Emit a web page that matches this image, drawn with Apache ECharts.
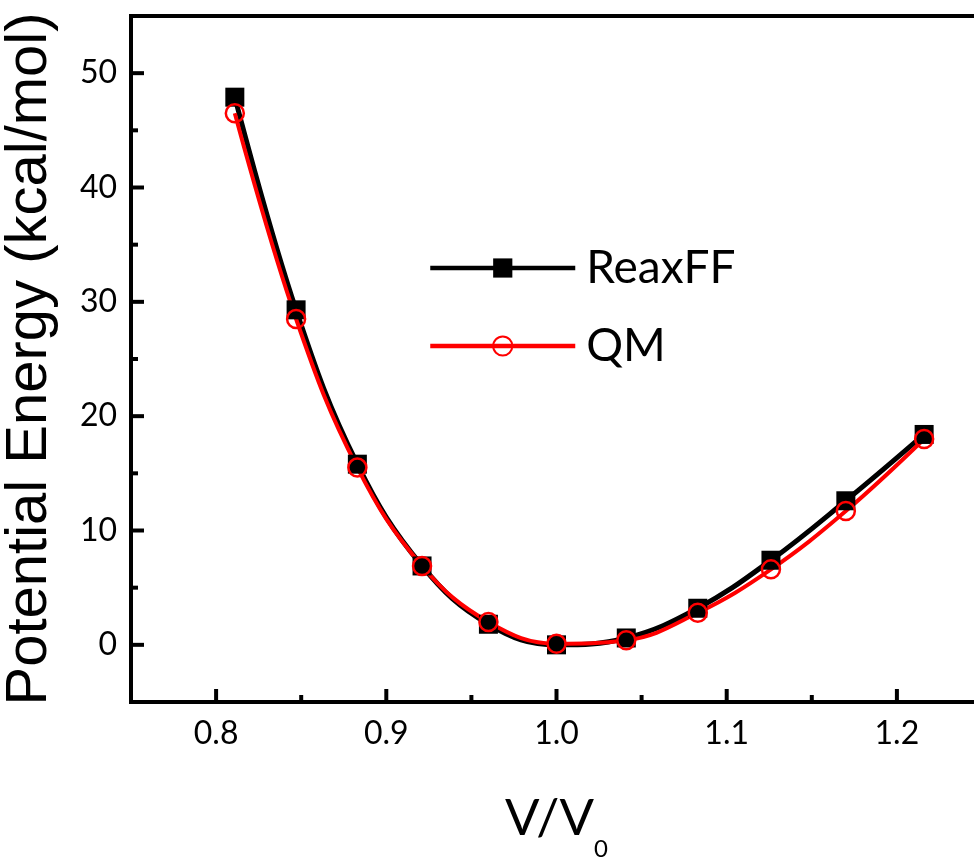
<!DOCTYPE html>
<html>
<head>
<meta charset="utf-8">
<title>Potential energy vs V/V0</title>
<script src="https://cdn.jsdelivr.net/npm/echarts@6/dist/echarts.min.js"></script>
<style>
  html, body { margin: 0; padding: 0; background: #fff; }
  #chart { width: 974px; height: 859px; }
</style>
</head>
<body>
<div id="chart"></div>
<script>
// values
const vRatio = [0.811, 0.847, 0.883, 0.921, 0.960, 1.000, 1.041, 1.083, 1.126, 1.170, 1.216];
const reaxff = [47.9, 29.3, 15.8, 6.9, 1.8, 0.0, 0.6, 3.2, 7.4, 12.6, 18.4];
const qm = [46.5, 28.5, 15.5, 6.9, 2.0, 0.1, 0.4, 2.8, 6.6, 11.7, 18.0];

const xMajor = [0.8, 0.9, 1.0, 1.1, 1.2];
const xMinor = [0.85, 0.95, 1.05, 1.15];
const yMajor = [0, 10, 20, 30, 40, 50];
const yMinor = [5, 15, 25, 35, 45];

const xMin = 0.75, xMax = 1.25;
const yMin = -5, yMax = 55;

function pairs(xs, ys) {
  return xs.map((x, i) => [x, ys[i]]);
}

let myChart = echarts.init(document.getElementById('chart'));

const tickFont = 'Lato';
const axisColor = '#000';

// inward tick marks placed through the axis scales, drawn as small rects
function tickSeries(values, isX, len) {
  return {
    type: 'custom',
    silent: true,
    z: 100,
    clip: false,
    data: values.map(v => (isX ? [v, yMin] : [xMin, v])),
    renderItem: (params, api) => {
      const p = api.coord([api.value(0), api.value(1)]);
      return {
        type: 'rect',
        shape: isX
          ? { x: p[0] - 2, y: p[1] - len, width: 4, height: len }
          : { x: p[0], y: p[1] - 2, width: len, height: 4 },
        style: { fill: axisColor }
      };
    }
  };
}

myChart.setOption({
  animation: false,
  backgroundColor: '#fff',
  grid: {
    left: 131,
    right: -8,
    top: 16,
    bottom: 157,
    outerBoundsMode: 'none',
    show: true,
    borderColor: axisColor,
    borderWidth: 4
  },
  legend: {
    left: 423,
    top: 238,
    orient: 'vertical',
    itemWidth: 145,
    itemHeight: 24,
    itemGap: 28,
    lineStyle: { width: 4.5 },
    textStyle: {
      fontFamily: tickFont,
      fontSize: 46,
      lineHeight: 50,
      color: '#000',
      padding: [0, 0, 0, 6]
    },
    data: ['ReaxFF', 'QM']
  },
  xAxis: {
    type: 'value',
    min: xMin,
    max: xMax,
    name: '{a|V/V}{b|0}',
    nameLocation: 'middle',
    nameGap: 75,
    nameTextStyle: {
      rich: {
        a: { fontFamily: tickFont, fontSize: 51, lineHeight: 84, verticalAlign: 'middle', color: '#000' },
        b: { fontFamily: tickFont, fontSize: 24, lineHeight: 84, verticalAlign: 'bottom', color: '#000' }
      }
    },
    axisLine: { show: true, onZero: false, lineStyle: { color: axisColor, width: 4 } },
    axisTick: { show: false },
    axisLabel: {
      customValues: xMajor,
      margin: 16,
      fontFamily: tickFont,
      fontSize: 32,
      color: '#000',
      formatter: v => v.toFixed(1)
    },
    splitLine: { show: false }
  },
  yAxis: {
    type: 'value',
    min: yMin,
    max: yMax,
    name: 'Potential Energy (kcal/mol)',
    nameLocation: 'middle',
    nameRotate: 90,
    nameGap: 72,
    nameTextStyle: {
      fontFamily: 'Liberation Sans',
      fontSize: 58,
      color: '#000'
    },
    axisLine: { show: true, onZero: false, lineStyle: { color: axisColor, width: 4 } },
    axisTick: { show: false },
    axisLabel: {
      customValues: yMajor,
      margin: 14,
      fontFamily: tickFont,
      fontSize: 32,
      color: '#000'
    },
    splitLine: { show: false }
  },
  series: [{
    name: 'ReaxFF',
    type: 'line',
    smooth: 0.4,
    data: pairs(vRatio, reaxff),
    symbol: 'rect',
    symbolSize: 19,
    color: '#000',
    lineStyle: { color: '#000', width: 5 },
    itemStyle: { color: '#000' }
  }, {
    name: 'QM',
    type: 'line',
    smooth: 0.4,
    data: pairs(vRatio, qm),
    symbol: 'circle',
    symbolSize: 18,
    color: '#ff0000',
    lineStyle: { color: '#ff0000', width: 4 },
    itemStyle: { color: 'rgba(255,255,255,0)', borderColor: '#ff0000', borderWidth: 2.5 }
  },
  tickSeries(xMajor, true, 13),
  tickSeries(xMinor, true, 7),
  tickSeries(yMajor, false, 13),
  tickSeries(yMinor, false, 7)
  ]
});
</script>
</body>
</html>
